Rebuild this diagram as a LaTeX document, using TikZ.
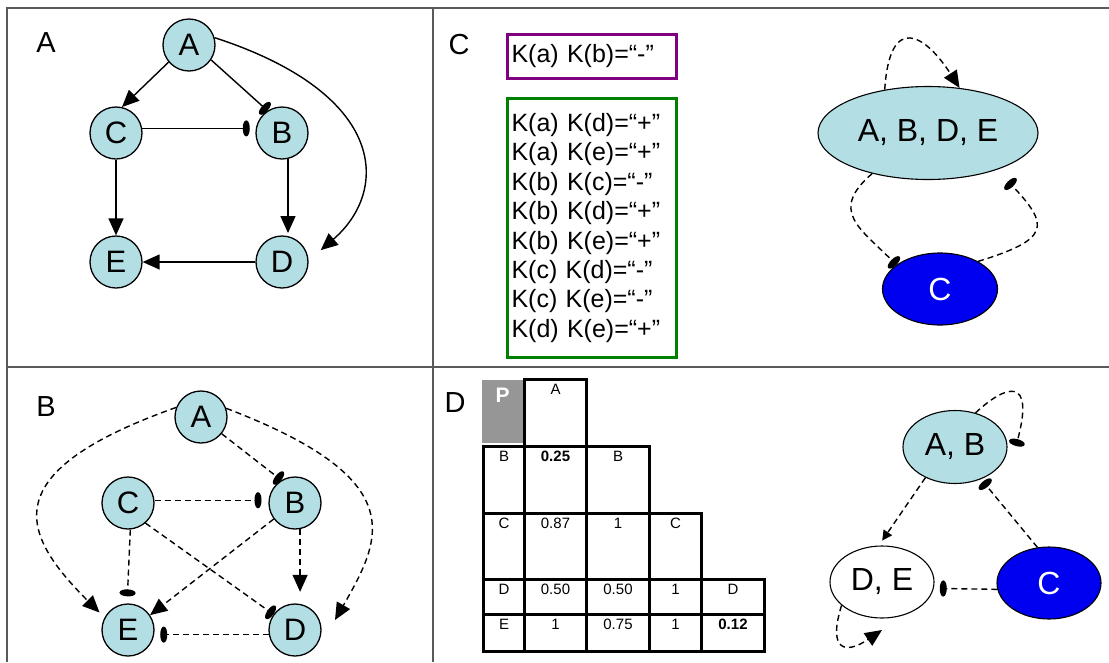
\documentclass[tikz,border=0pt]{standalone}
\usepackage{fontspec}
\setmainfont{Liberation Sans}
\usetikzlibrary{arrows.meta,shapes.geometric,calc}

\definecolor{nodefill}{RGB}{178,222,228}
\definecolor{deepblue}{RGB}{0,0,240}
\definecolor{framegray}{RGB}{90,90,90}
\definecolor{boxpurple}{RGB}{128,0,128}
\definecolor{boxgreen}{RGB}{0,128,0}
\definecolor{cellgray}{RGB}{150,150,150}

% one cell of the triangular table: name, x, y (top left), width, height, text
\newcommand{\tabcell}[6]{%
  \node[cellbox, minimum width=#4pt, minimum height=#5pt] (#1) at (#2,#3) {};
  \node[celltext] (#1t) at ([yshift=-16pt]#1.north) {#6};
}

\begin{document}
\begin{tikzpicture}[x=1pt,y=-1pt,
  gene/.style={circle, draw, line width=1.3pt, fill=nodefill, minimum size=52pt,
    inner sep=0pt, font=\fontsize{31}{31}\selectfont},
  group/.style={ellipse, draw, line width=1.1pt, inner sep=0pt,
    font=\fontsize{32}{32}\selectfont},
  panel/.style={inner sep=0pt, font=\fontsize{29}{29}\selectfont},
  act/.style={-{Triangle[length=17pt,width=15pt]}},
  smallact/.style={-{Triangle[length=10pt,width=10pt]}},
  inh/.style={-{Ellipse[length=7pt,width=16pt]}},
  link/.style={line width=1.4pt},
  dlink/.style={line width=1.4pt, dash pattern=on 6pt off 4pt},
  rulebox/.style={line width=3pt, anchor=north west, inner xsep=4pt, inner ysep=0pt,
    text width=161pt, align=left, font=\fontsize{25}{29.4}\selectfont},
  cellbox/.style={draw, line width=3pt, inner sep=0pt, anchor=north west},
  celltext/.style={anchor=base, inner sep=0pt, font=\fontsize{15}{15}\selectfont},
  frame/.style={draw=framegray, line width=2pt}
]
\useasboundingbox (0,0) rectangle (1109,662);
\fill[white] (0,0) rectangle (1109,662);

% panel frame
\draw[frame] (7,662) -- (7,8) -- (1109,8);
\draw[frame] (433,8) -- (433,662);
\draw[frame] (7,367) -- (1109,367);

% ---------- panel A: the signed network ----------
\node[panel] (labA) at (46,43) {A};
\node[gene] (a1) at (189,45) {A};
\node[gene] (c1) at (116,133) {C};
\node[gene] (b1) at (282,133) {B};
\node[gene] (e1) at (116,262) {E};
\node[gene] (d1) at (282,262) {D};

\draw[link,act] (a1.220) -- (c1.77);
\draw[link,inh] (a1.-34) -- (b1.123);
\draw[link,act,shorten >=16pt] (a1.16) .. controls +(175,57) and +(80,-69) .. (d1.3);
\draw[link,inh,shorten >=6pt] (c1.10) -- (b1.170);
\draw[link,act] (c1.270) -- (e1.90);
\draw[link,act,shorten >=3pt] (b1.-77) -- (d1.77);
\draw[link,act] (d1.180) -- (e1.0);

% ---------- panel B: the inferred influences ----------
\node[panel] (labB) at (46,407) {B};
\node[gene] (a2) at (201,417) {A};
\node[gene] (c2) at (128,503) {C};
\node[gene] (b2) at (295,503) {B};
\node[gene] (e2) at (128,630) {E};
\node[gene] (d2) at (295,630) {D};
\coordinate (a2d2tip) at (335,620);

\draw[dlink,act,shorten >=7pt] (a2.159) .. controls +(-183,65) and +(-84,-84) .. (e2.152);
\draw[dlink,act] (a2.19) .. controls +(186,71) and +(47,-82) .. (a2d2tip);
\draw[dlink,inh] (a2.-39) -- (b2.121);
\draw[dlink,inh,shorten >=7pt] (c2.6) -- (b2.174);
\draw[dlink,inh,shorten >=7pt] (c2.-85) -- (e2.92);
\draw[dlink,inh] (c2.-49) -- (d2.144);
\draw[dlink,act] (b2.217) -- (e2.34);
\draw[dlink,act,shorten >=12pt] (b2.-79) -- (d2.79);
\draw[dlink,inh,shorten >=6pt] (d2.190) -- (e2.-10);

% ---------- panel C: sign consistency and the reduced graph ----------
\node[panel] (labC) at (459,45) {C};
\node[rulebox, draw=boxpurple, minimum height=44pt] (kminus) at (506,33)
  {K(a) K(b)=“-”};
\node[rulebox, draw=boxgreen, minimum height=259pt] (kplus) at (506,97)
  {K(a) K(d)=“+”\\
   K(a) K(e)=“+”\\
   K(b) K(c)=“-”\\
   K(b) K(d)=“+”\\
   K(b) K(e)=“+”\\
   K(c) K(d)=“-”\\
   K(c) K(e)=“-”\\
   K(d) K(e)=“+”};

\node[group, fill=nodefill, minimum width=220pt, minimum height=93pt] (abde) at (928,133) {A, B, D, E};
\node[group, fill=deepblue, text=white, minimum width=115pt, minimum height=72pt] (c3) at (940,289) {C};

\draw[dlink,act] (abde.135) .. controls +(5,-78) and +(-34,-53) .. (abde.55);
\draw[dlink,inh] (abde.216) .. controls +(-43,37) and +(-37,-37) .. (c3.151);
\draw[dlink,inh,shorten >=16pt] (c3.36) .. controls +(72,-22) and +(53,56) .. (abde.-28);

% ---------- panel D: distance table and the clustered graph ----------
\node[panel] (labD) at (455,403) {D};

\node[fill=cellgray, inner sep=0pt, anchor=north west, minimum width=41pt, minimum height=63pt] (pcell) at (482,380) {};
\node[inner sep=0pt, text=white, font=\fontsize{21}{21}\selectfont\bfseries] (ptext) at ([yshift=-15pt]pcell.north) {P};

\tabcell{hA}{523}{378}{62}{67}{A}
\tabcell{rB}{482}{445}{41}{67}{B}
\tabcell{bA}{523}{445}{62}{67}{\textbf{0.25}}
\tabcell{hB}{585}{445}{63}{67}{B}
\tabcell{rC}{482}{512}{41}{66}{C}
\tabcell{cA}{523}{512}{62}{66}{0.87}
\tabcell{cB}{585}{512}{63}{66}{1}
\tabcell{hC}{648}{512}{52}{66}{C}
\tabcell{rD}{482}{578}{41}{35}{D}
\tabcell{dA}{523}{578}{62}{35}{0.50}
\tabcell{dB}{585}{578}{63}{35}{0.50}
\tabcell{dC}{648}{578}{52}{35}{1}
\tabcell{hD}{700}{578}{63}{35}{D}
\tabcell{rE}{482}{613}{41}{37}{E}
\tabcell{eA}{523}{613}{62}{37}{1}
\tabcell{eB}{585}{613}{63}{37}{0.75}
\tabcell{eC}{648}{613}{52}{37}{1}
\tabcell{eD}{700}{613}{63}{37}{\textbf{0.12}}

\node[group, fill=nodefill, minimum width=104pt, minimum height=73pt] (ab4) at (955,447) {A, B};
\node[group, fill=white, minimum width=104pt, minimum height=72pt] (de4) at (882,582) {D, E};
\node[group, fill=deepblue, text=white, minimum width=104pt, minimum height=72pt] (c4) at (1049,583) {C};
\coordinate (abloop) at (1016,446);
\coordinate (deloop) at (882,630);

\draw[dlink,inh] (ab4.59) .. controls +(30,-28) and +(19,-71) .. (abloop);
\draw[dlink,smallact,shorten >=6pt] (ab4.226) -- (de4.95);
\draw[dlink,inh,shorten >=3pt] (c4.108) -- (ab4.-51);
\draw[dlink,inh,shorten >=6pt] (c4.187) -- (de4.-7);
\draw[dlink,act] (de4.210) .. controls +(-14,45) and +(-37,25) .. (deloop);
\end{tikzpicture}
\end{document}
